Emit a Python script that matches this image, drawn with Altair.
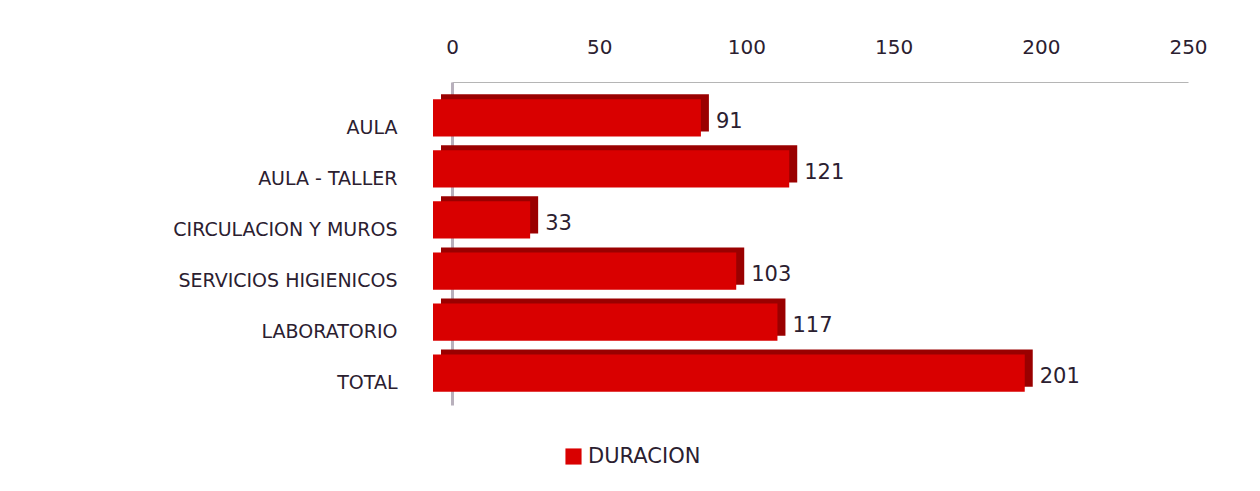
import altair as alt
import pandas as pd

categories = ["AULA", "AULA - TALLER", "CIRCULACION Y MUROS", "SERVICIOS HIGIENICOS ", "LABORATORIO", "TOTAL"]
values = [91, 121, 33, 103, 117, 201]
series = ["DURACION"] * len(categories)
x_ticks = [0, 50, 100, 150, 200, 250]

df = pd.DataFrame({"cat": categories, "val": values, "serie": series})

FONT = "DejaVu Sans"
TXT = "#2b2030"
xscale = alt.Scale(domain=[0, 250], nice=False)
yscale = alt.Scale(domain=categories, paddingInner=0.27, paddingOuter=0.3)

base = alt.Chart(df)

depth = base.mark_bar(color="#9a0000", xOffset=-11, yOffset=-3).encode(
    x=alt.X("val:Q", scale=xscale,
            axis=alt.Axis(orient="top", values=x_ticks, title=None, grid=False,
                          ticks=False, domain=True, domainColor="#b5b5b5",
                          labelFont=FONT, labelFontSize=20, labelColor=TXT,
                          labelFlush=False, labelPadding=25)),
    y=alt.Y("cat:N", scale=yscale, sort=categories,
            axis=alt.Axis(title=None, ticks=False, domain=True, domainColor="#b8b0bc",
                          domainWidth=3, labelFont=FONT, labelLimit=0, labelOffset=12,
                          labelFontSize=19, labelColor=TXT, labelPadding=55)),
)

front = base.mark_bar(xOffset=-19, yOffset=2).encode(
    x=alt.X("val:Q", scale=xscale),
    y=alt.Y("cat:N", scale=yscale, sort=categories),
    color=alt.Color("serie:N", scale=alt.Scale(range=["#d90000"]),
                    legend=alt.Legend(title=None, orient="none", legendX=111, legendY=364,
                                      symbolType="square", symbolSize=260,
                                      labelFont=FONT, labelFontSize=21, labelLimit=0,
                                      labelColor=TXT, symbolStrokeWidth=0)),
)

labels = base.mark_text(align="left", baseline="middle", dx=-4, dy=6, font=FONT,
                        fontSize=21, color=TXT).encode(
    x=alt.X("val:Q", scale=xscale),
    y=alt.Y("cat:N", scale=yscale, sort=categories),
    text=alt.Text("val:Q"),
)

chart = alt.layer(depth, front, labels).properties(
    width=736, height=323,
    autosize=alt.AutoSizeParams(type="none"),
    padding={"left": 444, "top": 74, "right": 60, "bottom": 70},
).configure(background="white").configure_view(stroke=None)

chart.save("out.html", embed_options={"renderer": "svg", "actions": False})
